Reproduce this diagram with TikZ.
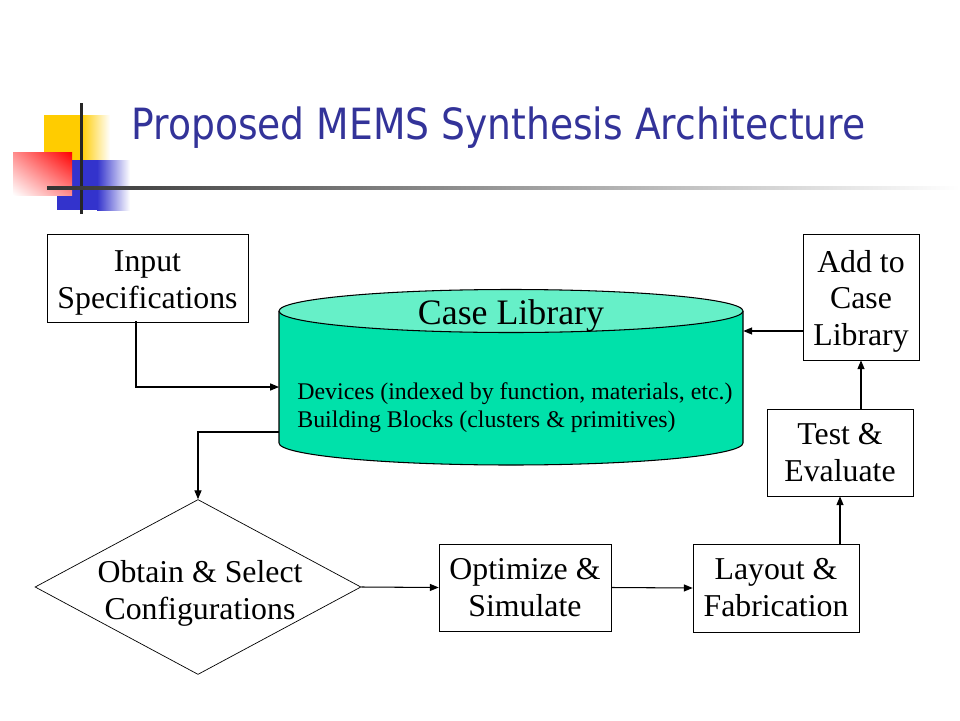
\documentclass[tikz,border=0pt]{standalone}
\usepackage{fontspec}
\setmainfont{Liberation Serif}
\newfontfamily\titlefont[FakeStretch=0.875]{DejaVu Sans}
\usetikzlibrary{arrows.meta,shapes.geometric,shadings}

\definecolor{titleblue}{RGB}{51,51,153}
\definecolor{libbody}{RGB}{0,225,170}
\definecolor{libtop}{RGB}{102,240,200}
\definecolor{decoyellow}{RGB}{255,204,0}
\definecolor{decoblue}{RGB}{51,51,204}
\definecolor{decored}{RGB}{255,0,0}

\newcommand{\toplinestrut}{\rule{0pt}{17.5pt}}

\tikzset{
  box/.style={draw,rectangle,inner sep=0,align=center,font=\fontsize{18.1}{21}\selectfont},
  dia/.style={draw,diamond,inner sep=0,minimum width=6.52cm,minimum height=3.5cm},
  arr/.style={-{Triangle[length=5pt,width=4pt]},line width=0.6pt},
}

\begin{document}
\begin{tikzpicture}[x=0.02cm,y=-0.02cm]
	\useasboundingbox (0,0) rectangle (960,720);
	% title decoration
	\fill[decoyellow] (44,115) rectangle (81,160);
	\shade[left color=decoyellow,right color=white] (81,115) rectangle (110,160);
	\fill[decoblue] (57,160) rectangle (97,210);
	\shade[left color=decoblue,right color=white] (97,160) rectangle (130,210);
	\shade[lower left=white,upper right=decored,upper left=decored!45!white,lower right=decored!45!white] (13,195) rectangle (72,152);
	\fill[black!85] (79.5,103) rectangle (82.5,214);
	\shade[left color=black!80,right color=white] (47,186.5) rectangle (960,189.5);
	\node[anchor=base west,inner sep=0,text=titleblue,font=\titlefont\fontsize{24.5}{28}\selectfont] (title) at (131,139) {Proposed MEMS Synthesis Architecture};

	% case library
	\node[rectangle,minimum width=9.28cm,minimum height=2.64cm,inner sep=0] (lib) at (511,377) {};
	\fill[libbody] (279,311) -- (279,443) arc[start angle=180,end angle=0,x radius=232,y radius=22] -- (743,311) -- cycle;
	\draw[line width=0.6pt] (279,311) -- (279,443) arc[start angle=180,end angle=0,x radius=232,y radius=22] -- (743,311);
	\filldraw[fill=libtop,line width=0.6pt] (511,311) ellipse[x radius=232,y radius=21.5];
	\node[inner sep=0,font=\fontsize{20.4}{24}\selectfont] (libname) at (511,316) {Case Library};
	\node[anchor=west,inner sep=0,align=left,font=\fontsize{13.6}{15.9}\selectfont] (libitems) at (297,408) {Devices (indexed by function, materials, etc.)\\Building Blocks (clusters \& primitives)};

	% process boxes
	\node[box,minimum width=4.02cm,minimum height=1.76cm] (inp) at (147.5,278) {\toplinestrut Input\\Specifications};
	\node[box,minimum width=2.32cm,minimum height=2.52cm] (add) at (861,297) {\toplinestrut Add to\\Case\\Library};
	\node[box,minimum width=2.92cm,minimum height=1.74cm] (test) at (840,452.5) {Test \&\\Evaluate};
	\node[box,minimum width=3.32cm,minimum height=1.76cm] (lay) at (776,588) {Layout \&\\Fabrication};
	\node[box,minimum width=3.44cm,minimum height=1.74cm] (opt) at (525,587.5) {Optimize \&\\Simulate};
	\node[dia] (obt) at (198,587) {};
	\node[inner sep=0,align=center,font=\fontsize{18.1}{21}\selectfont] (obttext) at (200,593.5) {Obtain \& Select\\Configurations};

	% connectors
	\coordinate (inpout) at (136,321);
	\coordinate (libin) at (279,387);
	\coordinate (libout) at (279,432);
	\coordinate (addout) at (803,331);
	\draw[arr] (inpout) |- (libin);
	\draw[arr] (libout) -| (obt.north);
	\draw[arr] (obt.east) -- (opt.west);
	\draw[arr] (opt.east) -- (lay.west);
	\draw[arr] (lay.north -| test.south) -- (test.south);
	\draw[arr] (test.north -| add.south) -- (add.south);
	\draw[arr] (addout) -- (addout -| lib.east);
\end{tikzpicture}
\end{document}
